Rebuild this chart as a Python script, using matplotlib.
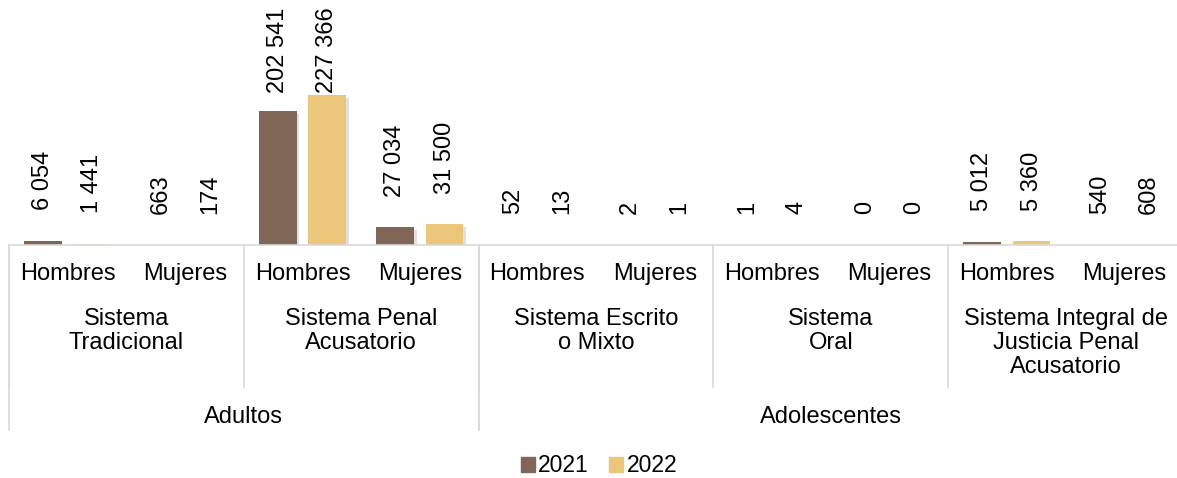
import matplotlib

matplotlib.use("Agg")
import matplotlib.pyplot as plt
import matplotlib.patheffects as pe
from matplotlib.patches import Patch
from matplotlib.transforms import blended_transform_factory
import numpy as np

plt.rcParams["font.family"] = ["Liberation Sans", "DejaVu Sans"]

genders = ["Hombres", "Mujeres"] * 5
systems = [
    "Sistema\nTradicional",
    "Sistema Penal\nAcusatorio",
    "Sistema Escrito\no Mixto",
    "Sistema\nOral",
    "Sistema Integral de\nJusticia Penal\nAcusatorio",
]
groups = ["Adultos", "Adolescentes"]
group_sizes = [2, 3]  # systems per group
years = ["2021", "2022"]
values_2021 = [6054, 663, 202541, 27034, 52, 2, 1, 0, 5012, 540]
values_2022 = [1441, 174, 227366, 31500, 13, 1, 4, 0, 5360, 608]

COLORS = ["#806656", "#EAC57A"]
GRID = "#d9d9d9"
W, H = 1177, 478
YTOP = 250000
FS = 17

fig = plt.figure(figsize=(W / 100, H / 100), dpi=100)
base_px = 245
ax = fig.add_axes([9 / W, 1 - base_px / H, 1174 / W, 165 / H])

x = np.arange(len(genders))
offset, width = 0.21, 0.32
shadow = [pe.SimplePatchShadow(offset=(2, -2), shadow_rgbFace="#999999", alpha=0.3), pe.Normal()]
for vals, dx, color in zip([values_2021, values_2022], [-offset, offset], COLORS):
    vals = np.array(vals)
    bars = ax.bar(x + dx, vals, width=width, color=color, zorder=3)
    for b in bars:
        b.set_path_effects(shadow)
    base = np.minimum(vals, 0.733 * YTOP)
    for xi, v, yb in zip(x + dx, vals, base):
        ax.annotate(f"{v:,}".replace(",", " "), (xi, yb), xytext=(0, 22),
                    textcoords="offset points", rotation=90, ha="center", va="bottom",
                    fontsize=FS, annotation_clip=False)

ax.set_xlim(-0.5, len(genders) - 0.5)
ax.set_ylim(0, YTOP)
ax.axis("off")

tr = blended_transform_factory(ax.transData, fig.transFigure)


def fy(px):
    return 1 - px / H


# baseline
ax.plot([-0.5, len(genders) - 0.5], [fy(base_px)] * 2, color=GRID, lw=1.2,
        transform=tr, clip_on=False, zorder=4)

for xi, g in zip(x, genders):
    ax.text(xi, fy(274), g, transform=tr, ha="center", va="center", fontsize=FS)

for i, s in enumerate(systems):
    ax.text(2 * i + 0.5, fy(308), s, transform=tr, ha="center", va="top",
            fontsize=FS, linespacing=1.13)

# separators between systems (second level)
for i in range(len(systems) + 1):
    xs = 2 * i - 0.5
    ax.plot([xs, xs], [fy(base_px), fy(387)], color=GRID, lw=1.2,
            transform=tr, clip_on=False)

start = 0
for gname, n in zip(groups, group_sizes):
    left = 2 * start - 0.5
    right = 2 * (start + n) - 0.5
    ax.text((left + right) / 2, fy(417), gname, transform=tr, ha="center",
            va="center", fontsize=FS)
    for xs in (left, right):
        ax.plot([xs, xs], [fy(base_px), fy(430)], color=GRID, lw=1.2,
                transform=tr, clip_on=False)
    start += n

handles = [Patch(color=c, label=y) for c, y in zip(COLORS, years)]
fig.legend(handles=handles, loc="center", bbox_to_anchor=(599 / W, fy(466)), ncol=2,
           frameon=False, fontsize=16.5, handlelength=0.6, handleheight=0.6,
           handletextpad=0.15, columnspacing=0.9)

fig.savefig("out.png", dpi=100)
